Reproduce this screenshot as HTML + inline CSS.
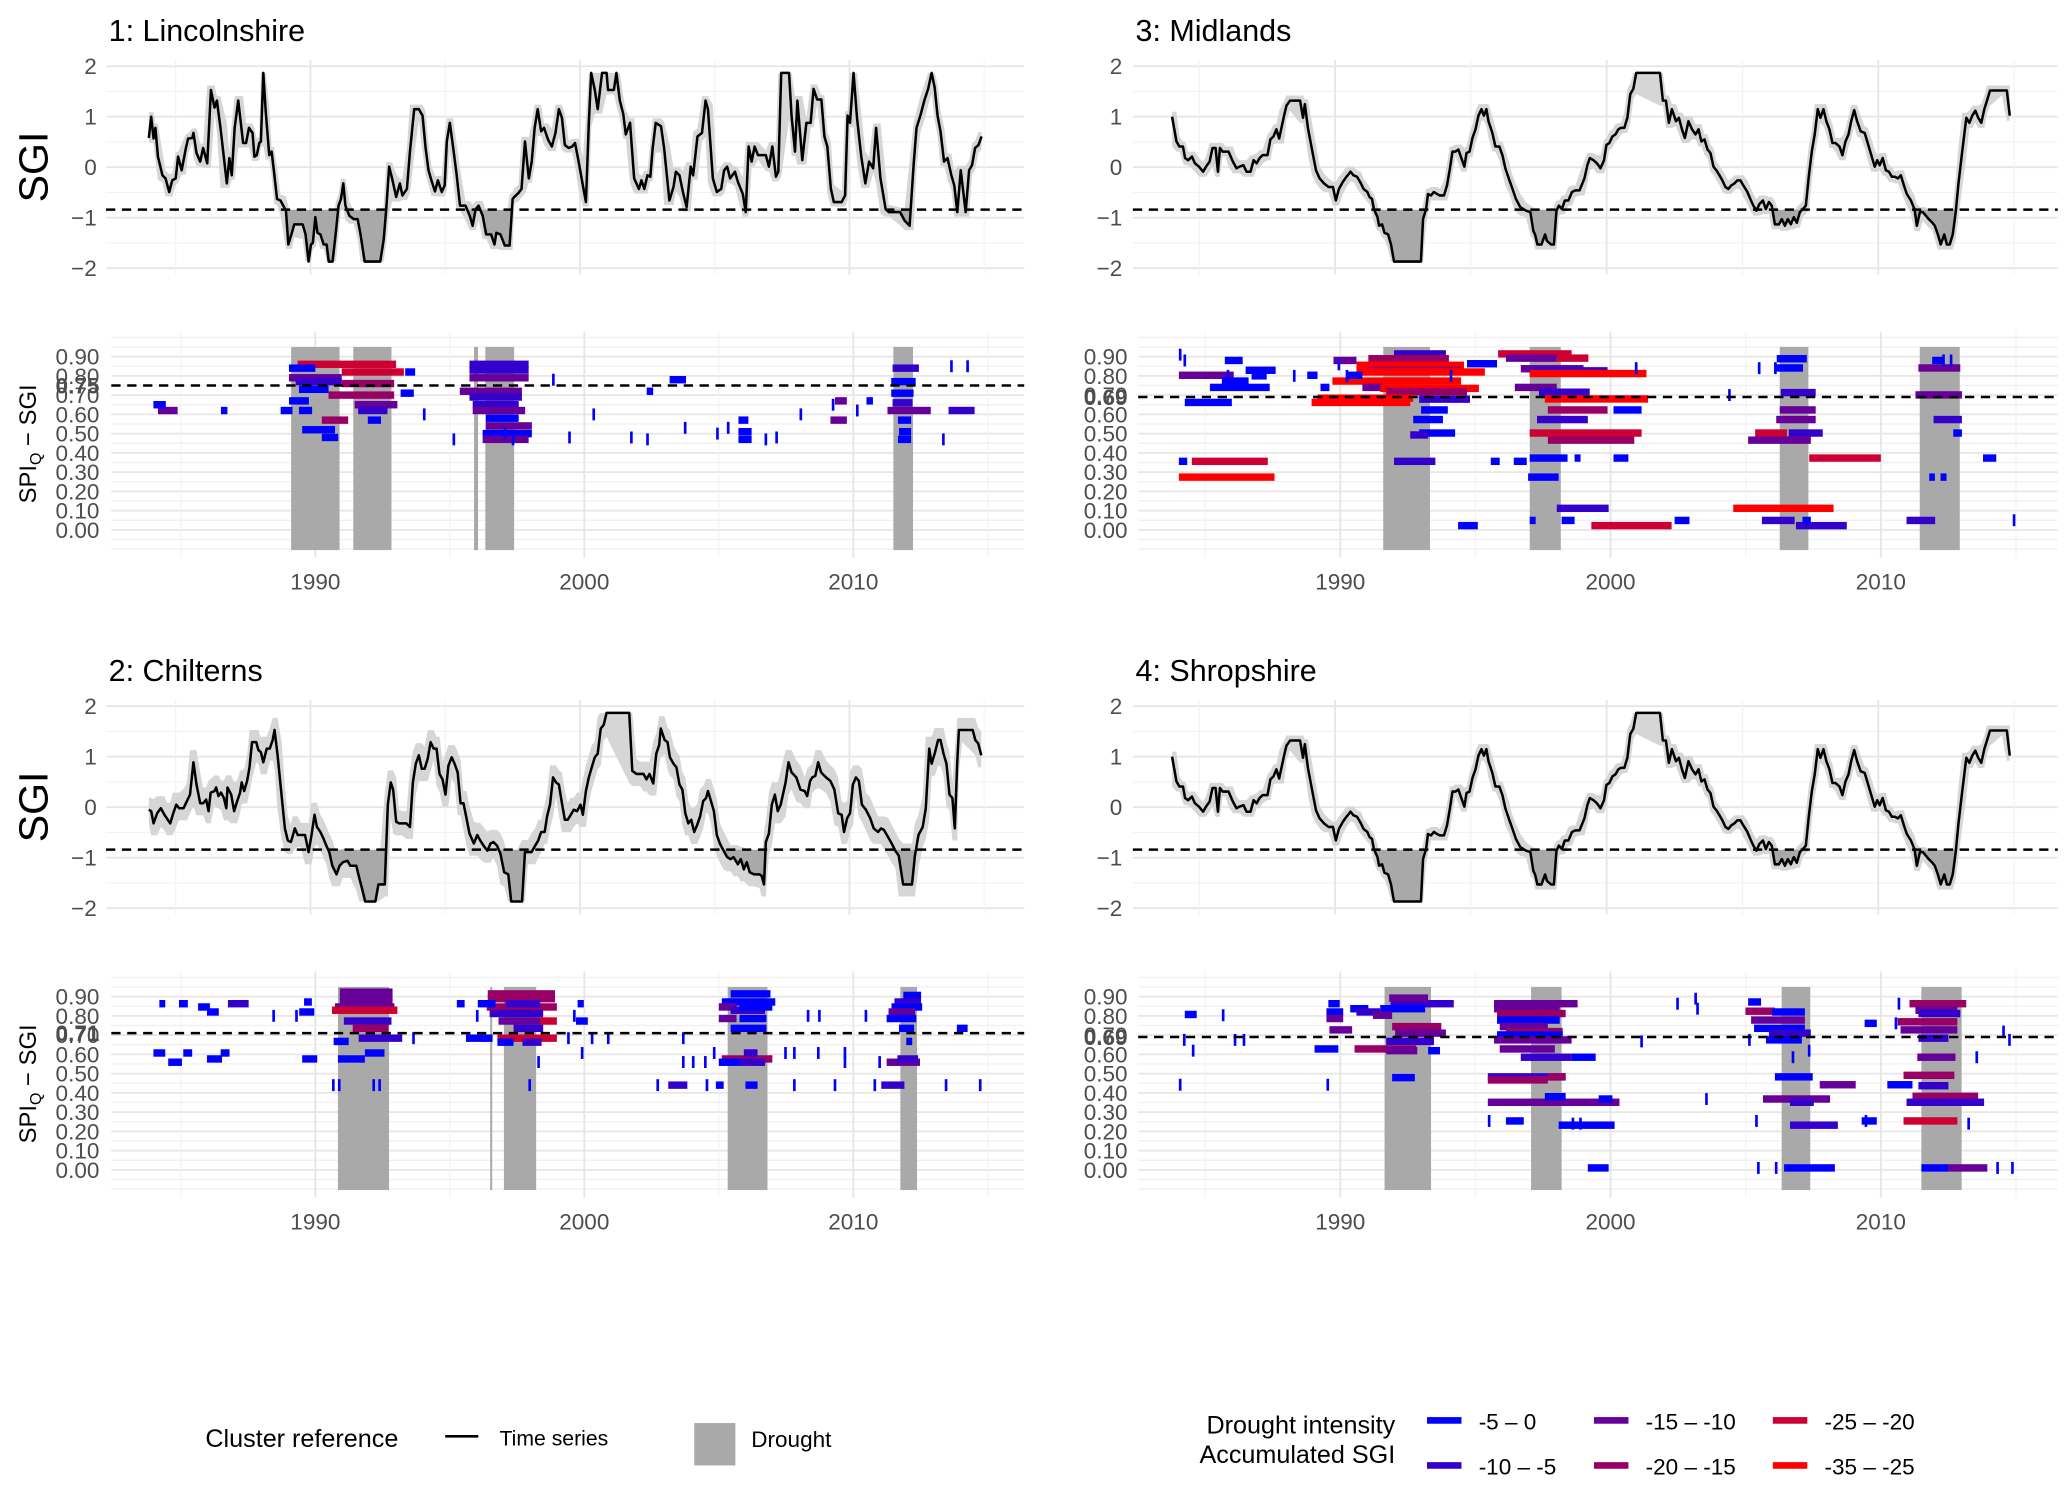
<!DOCTYPE html>
<html><head><meta charset="utf-8"><title>SGI drought clusters</title>
<style>
html,body{margin:0;padding:0;background:#fff;}
svg{display:block;font-family:"Liberation Sans",Arial,sans-serif;}
</style></head>
<body>
<svg id="chart" xmlns="http://www.w3.org/2000/svg" width="2067" height="1486" viewBox="0 0 1560 1121.5"></svg>
<script>
// ===== Data =====
const lincYears=[1984.0,1984.09,1984.18,1984.25,1984.34,1984.51,1984.62,1984.76,1984.87,1985.0,1985.09,1985.22,1985.38,1985.46,1985.62,1985.66,1985.77,1985.91,1986.02,1986.17,1986.31,1986.44,1986.53,1986.66,1986.9,1986.99,1987.08,1987.19,1987.32,1987.5,1987.61,1987.72,1987.85,1987.92,1988.01,1988.1,1988.16,1988.25,1988.34,1988.47,1988.56,1988.65,1988.76,1988.89,1989.09,1989.18,1989.31,1989.4,1989.71,1989.82,1989.93,1990.02,1990.09,1990.18,1990.26,1990.37,1990.49,1990.6,1990.68,1990.82,1990.95,1991.04,1991.13,1991.22,1991.3,1991.44,1991.61,1991.75,1991.86,1992.01,1992.59,1992.72,1992.81,1992.92,1993.03,1993.18,1993.32,1993.41,1993.58,1993.69,1993.85,1994.02,1994.16,1994.27,1994.38,1994.49,1994.62,1994.73,1994.87,1994.98,1995.06,1995.17,1995.29,1995.42,1995.55,1995.75,1995.91,1996.02,1996.13,1996.24,1996.39,1996.52,1996.7,1996.83,1996.9,1997.05,1997.21,1997.39,1997.5,1997.56,1997.72,1997.83,1997.96,1998.1,1998.21,1998.32,1998.43,1998.56,1998.67,1998.82,1998.96,1999.09,1999.22,1999.33,1999.44,1999.58,1999.71,1999.82,1999.95,2000.11,2000.22,2000.33,2000.42,2000.55,2000.66,2000.82,2000.99,2001.04,2001.26,2001.35,2001.48,2001.61,2001.7,2001.86,2002.01,2002.19,2002.28,2002.39,2002.5,2002.61,2002.7,2002.81,2003.01,2003.12,2003.32,2003.47,2003.56,2003.69,2003.82,2003.96,2004.11,2004.2,2004.36,2004.53,2004.66,2004.75,2004.93,2005.08,2005.24,2005.35,2005.46,2005.57,2005.75,2005.86,2006.04,2006.15,2006.26,2006.37,2006.48,2006.61,2006.9,2007.01,2007.14,2007.27,2007.36,2007.47,2007.76,2007.85,2007.98,2008.07,2008.25,2008.4,2008.56,2008.67,2008.8,2008.96,2009.07,2009.18,2009.31,2009.42,2009.71,2009.84,2009.93,2010.02,2010.15,2010.28,2010.44,2010.59,2010.73,2010.88,2010.99,2011.15,2011.34,2011.46,2011.88,2012.05,2012.23,2012.38,2012.49,2012.63,2012.78,2012.92,2013.05,2013.16,2013.27,2013.38,2013.51,2013.64,2013.78,2013.89,2014.0,2014.13,2014.31,2014.44,2014.55,2014.66,2014.79,2014.9];
const lincSGI=[0.58,1.0,0.57,0.78,0.21,-0.16,-0.22,-0.49,-0.26,-0.22,0.21,-0.06,0.38,0.57,0.58,0.68,0.28,0.11,0.38,0.08,1.53,1.18,1.32,0.78,-0.32,0.18,-0.16,0.78,1.32,0.48,0.48,0.78,0.68,0.21,0.24,0.48,0.51,1.87,1.12,0.24,0.31,-0.09,-0.63,-0.66,-0.86,-1.53,-1.30,-1.13,-1.13,-1.33,-1.87,-1.53,-1.50,-0.99,-1.30,-1.33,-1.53,-1.53,-1.87,-1.87,-1.26,-0.76,-0.63,-0.32,-0.76,-0.96,-1.03,-1.03,-1.33,-1.87,-1.87,-1.43,-0.83,0.01,-0.22,-0.59,-0.32,-0.56,-0.43,0.31,1.15,1.15,1.02,0.38,-0.06,-0.26,-0.48,-0.26,-0.49,-0.36,0.51,0.88,0.41,-0.12,-0.76,-0.76,-0.96,-1.16,-0.83,-0.76,-0.96,-1.33,-1.33,-1.53,-1.30,-1.33,-1.55,-1.55,-0.63,-0.59,-0.51,-0.43,0.51,-0.22,0.11,0.78,1.15,0.71,0.78,0.54,0.41,0.68,1.15,0.98,0.44,0.38,0.41,0.48,0.11,-0.36,-0.69,0.88,1.87,1.53,1.15,1.87,1.87,1.53,1.53,1.87,1.32,1.05,0.65,0.88,-0.22,-0.43,-0.26,-0.43,-0.16,-0.19,0.38,0.88,0.81,0.38,-0.66,-0.39,-0.09,-0.16,-0.49,-0.79,0.01,-0.16,0.61,0.68,1.32,1.15,-0.22,-0.49,-0.43,-0.06,0.01,-0.22,-0.09,-0.29,-0.53,-0.89,0.41,0.11,0.41,0.24,0.24,0.01,0.41,-0.19,-0.09,1.87,1.87,1.02,0.31,1.32,0.14,0.88,0.88,1.55,1.34,1.34,0.61,0.41,-0.43,-0.69,-0.69,-0.56,1.02,0.88,1.87,0.98,0.21,-0.32,0.11,-0.02,0.78,-0.22,-0.83,-0.89,-0.89,-1.06,-1.16,0.04,0.78,1.02,1.32,1.55,1.87,1.58,1.02,0.71,0.11,0.18,-0.16,-0.36,-0.89,-0.06,-0.89,-0.06,0.04,0.38,0.44,0.61];

const midYears=[1984.0,1984.16,1984.27,1984.4,1984.48,1984.59,1984.73,1984.84,1984.99,1985.14,1985.25,1985.38,1985.49,1985.6,1985.69,1985.76,1985.86,1985.97,1986.08,1986.24,1986.37,1986.48,1986.63,1986.74,1986.89,1987.0,1987.11,1987.22,1987.33,1987.51,1987.62,1987.73,1987.84,1987.94,1988.12,1988.21,1988.34,1988.71,1988.82,1988.89,1989.0,1989.15,1989.3,1989.43,1989.59,1989.76,1989.92,1990.03,1990.14,1990.29,1990.42,1990.57,1990.68,1990.81,1990.95,1991.05,1991.19,1991.27,1991.36,1991.43,1991.56,1991.62,1991.73,1991.82,1991.95,1992.06,1992.17,1993.16,1993.24,1993.35,1993.42,1993.53,1993.64,1993.75,1993.86,1994.01,1994.12,1994.23,1994.32,1994.43,1994.54,1994.65,1994.76,1994.84,1994.95,1995.06,1995.17,1995.28,1995.39,1995.48,1995.57,1995.65,1995.79,1995.9,1996.05,1996.16,1996.27,1996.42,1996.53,1996.66,1996.82,1997.03,1997.19,1997.3,1997.36,1997.45,1997.6,1997.73,1997.8,1997.95,1998.06,1998.15,1998.24,1998.35,1998.46,1998.59,1998.72,1998.85,1999.0,1999.18,1999.29,1999.38,1999.51,1999.64,1999.77,1999.9,1999.99,2000.1,2000.21,2000.32,2000.43,2000.52,2000.65,2000.76,2000.87,2000.98,2001.09,2001.96,2002.07,2002.18,2002.29,2002.4,2002.55,2002.66,2002.77,2002.88,2003.01,2003.14,2003.27,2003.38,2003.49,2003.6,2003.71,2003.82,2003.93,2004.04,2004.15,2004.26,2004.37,2004.48,2004.59,2004.7,2004.81,2004.92,2005.03,2005.18,2005.29,2005.4,2005.51,2005.62,2005.75,2005.86,2005.97,2006.08,2006.19,2006.34,2006.45,2006.56,2006.67,2006.78,2006.89,2007.0,2007.11,2007.22,2007.33,2007.44,2007.55,2007.66,2007.77,2007.87,2007.98,2008.09,2008.2,2008.31,2008.42,2008.57,2008.68,2008.79,2008.9,2009.0,2009.11,2009.22,2009.35,2009.5,2009.61,2009.74,2009.87,2009.96,2010.05,2010.16,2010.28,2010.39,2010.5,2010.61,2010.72,2010.83,2010.94,2011.05,2011.2,2011.33,2011.42,2011.53,2011.64,2011.75,2011.86,2011.99,2012.08,2012.19,2012.3,2012.43,2012.52,2012.63,2012.74,2012.85,2012.95,2013.09,2013.24,2013.35,2013.46,2013.57,2013.68,2013.79,2013.9,2014.0,2014.11,2014.55,2014.73,2014.84];
const midSGI=[1.0,0.51,0.41,0.41,0.18,0.14,0.21,0.08,0.01,-0.09,0.01,0.11,0.38,0.38,-0.09,0.38,0.31,0.31,0.31,0.11,-0.02,0.01,0.04,-0.09,-0.09,0.14,0.08,0.18,0.24,0.24,0.55,0.61,0.75,0.57,1.02,1.22,1.32,1.32,0.98,1.25,0.78,0.35,-0.06,-0.22,-0.32,-0.39,-0.39,-0.66,-0.43,-0.29,-0.19,-0.09,-0.16,-0.19,-0.32,-0.43,-0.49,-0.59,-0.63,-0.83,-0.99,-1.16,-1.13,-1.30,-1.33,-1.53,-1.87,-1.87,-1.03,-0.83,-0.53,-0.56,-0.49,-0.53,-0.56,-0.56,-0.36,-0.02,0.31,0.31,0.35,0.18,0.01,0.28,0.31,0.58,0.75,1.02,1.15,1.02,1.15,0.91,0.68,0.41,0.41,0.24,-0.02,-0.26,-0.43,-0.63,-0.79,-0.86,-0.89,-1.26,-1.33,-1.53,-1.53,-1.33,-1.46,-1.53,-1.53,-0.86,-0.76,-0.83,-0.66,-0.66,-0.49,-0.46,-0.46,-0.22,0.04,0.18,0.14,0.08,-0.02,0.14,0.44,0.48,0.61,0.65,0.75,0.78,0.78,0.98,1.45,1.55,1.87,1.87,1.32,1.32,0.88,1.15,0.91,0.98,0.75,0.58,0.91,0.75,0.65,0.75,0.51,0.55,0.35,0.28,0.01,-0.06,-0.16,-0.26,-0.39,-0.43,-0.36,-0.32,-0.26,-0.26,-0.36,-0.49,-0.63,-0.76,-0.86,-0.73,-0.66,-0.83,-0.69,-0.76,-1.13,-1.13,-1.03,-1.16,-1.03,-1.13,-0.99,-1.10,-0.89,-0.83,-0.76,-0.19,0.31,0.65,1.15,0.98,1.15,0.91,0.75,0.48,0.48,0.41,0.24,0.51,0.65,0.91,1.13,0.91,0.71,0.68,0.48,0.24,0.01,0.14,0.04,0.18,-0.06,-0.09,-0.19,-0.19,-0.22,-0.16,-0.36,-0.53,-0.66,-0.83,-1.16,-0.89,-0.89,-0.96,-1.03,-1.10,-1.16,-1.33,-1.53,-1.33,-1.53,-1.53,-1.33,-0.89,-0.32,0.31,0.98,0.88,1.02,1.12,0.98,0.88,1.15,1.32,1.52,1.52,1.52,1.02];

const chilYears=[1984.0,1984.09,1984.18,1984.31,1984.45,1984.58,1984.67,1984.8,1984.89,1985.02,1985.13,1985.29,1985.42,1985.53,1985.66,1985.77,1985.91,1986.02,1986.13,1986.22,1986.3,1986.44,1986.5,1986.59,1986.68,1986.79,1986.88,1986.92,1987.06,1987.17,1987.28,1987.39,1987.45,1987.54,1987.65,1987.74,1987.83,1987.99,1988.07,1988.16,1988.25,1988.38,1988.49,1988.6,1988.67,1988.78,1988.94,1989.05,1989.16,1989.27,1989.33,1989.42,1989.53,1989.64,1989.8,1989.93,1990.04,1990.15,1990.24,1990.37,1990.48,1990.59,1990.7,1990.81,1990.97,1991.08,1991.21,1991.37,1991.48,1991.7,1991.81,1991.92,1992.03,1992.41,1992.52,1992.76,1992.87,1992.98,1993.07,1993.18,1993.29,1993.4,1993.56,1993.69,1993.8,1993.91,1994.02,1994.13,1994.24,1994.35,1994.46,1994.57,1994.68,1994.79,1994.9,1995.01,1995.12,1995.24,1995.35,1995.46,1995.57,1995.68,1995.79,1995.9,1996.06,1996.19,1996.3,1996.46,1996.57,1996.68,1996.79,1996.92,1997.05,1997.19,1997.34,1997.45,1997.85,1997.96,1998.07,1998.2,1998.34,1998.45,1998.56,1998.69,1998.78,1998.89,1999.0,1999.11,1999.22,1999.33,1999.44,1999.55,1999.66,1999.77,1999.89,2000.02,2000.11,2000.22,2000.33,2000.44,2000.55,2000.66,2000.77,2000.88,2000.99,2001.83,2001.94,2002.1,2002.23,2002.36,2002.47,2002.58,2002.72,2002.83,2002.94,2003.0,2003.14,2003.25,2003.34,2003.47,2003.58,2003.69,2003.8,2003.91,2004.02,2004.13,2004.24,2004.35,2004.46,2004.57,2004.68,2004.75,2004.86,2004.97,2005.08,2005.19,2005.33,2005.46,2005.59,2005.7,2005.86,2005.97,2006.08,2006.19,2006.3,2006.46,2006.66,2006.74,2006.83,2006.9,2007.01,2007.12,2007.23,2007.34,2007.45,2007.63,2007.74,2007.85,2008.03,2008.18,2008.34,2008.43,2008.54,2008.62,2008.73,2008.84,2008.95,2009.13,2009.29,2009.44,2009.58,2009.71,2009.8,2009.91,2010.02,2010.13,2010.24,2010.35,2010.46,2010.61,2010.77,2010.9,2011.06,2011.17,2011.28,2011.43,2011.57,2011.7,2011.83,2011.99,2012.32,2012.43,2012.56,2012.72,2012.83,2012.96,2013.05,2013.16,2013.29,2013.38,2013.49,2013.6,2013.71,2013.82,2013.91,2014.0,2014.06,2014.18,2014.57,2014.67,2014.78,2014.89];
const chilSGI=[-0.05,-0.08,-0.32,-0.12,-0.02,-0.15,-0.22,-0.32,-0.15,0.05,-0.02,-0.02,0.12,0.25,0.89,0.45,0.08,0.08,0.15,-0.08,0.29,0.32,0.39,0.22,0.29,0.18,-0.02,0.39,0.25,-0.08,0.12,0.29,0.49,0.32,0.52,0.79,1.29,1.29,1.13,1.09,0.89,1.16,1.16,1.33,1.53,1.03,0.18,-0.42,-0.66,-0.69,-0.59,-0.42,-0.55,-0.55,-0.55,-0.89,-0.55,-0.15,-0.39,-0.49,-0.62,-0.76,-0.89,-1.16,-1.33,-1.16,-1.09,-1.06,-1.16,-1.16,-1.40,-1.63,-1.87,-1.87,-1.53,-1.53,0.05,0.49,0.35,-0.29,-0.32,-0.32,-0.32,-0.39,0.49,0.86,1.03,0.76,0.76,0.96,1.29,1.16,1.16,0.66,0.55,0.25,0.82,0.99,0.86,0.69,0.08,0.08,-0.22,-0.52,-0.72,-0.55,-0.66,-0.79,-0.86,-0.72,-0.69,-0.76,-0.92,-1.29,-1.33,-1.87,-1.87,-0.89,-0.89,-0.89,-0.76,-0.66,-0.49,-0.49,-0.18,0.05,0.59,0.49,0.45,0.08,-0.25,-0.25,-0.15,-0.05,-0.08,0.05,-0.15,0.32,0.59,0.79,0.99,1.06,1.56,1.63,1.87,1.87,0.72,0.66,0.66,0.66,0.55,0.66,0.47,1.06,1.23,1.56,1.33,1.29,0.99,0.86,0.79,0.45,0.35,-0.12,-0.32,-0.25,-0.49,-0.35,-0.18,0.12,0.18,0.32,0.12,-0.08,-0.55,-0.72,-0.86,-0.99,-1.03,-0.99,-1.13,-1.03,-1.23,-1.09,-1.29,-1.33,-1.33,-1.36,-1.53,-0.69,-0.52,0.05,0.25,-0.08,0.05,0.49,0.89,0.69,0.59,0.35,0.32,0.22,0.52,0.59,0.62,0.89,0.69,0.59,0.52,0.35,-0.12,-0.15,-0.49,-0.22,-0.12,0.45,0.59,0.52,0.05,-0.05,-0.22,-0.42,-0.49,-0.42,-0.45,-0.59,-0.72,-0.86,-0.96,-1.53,-1.53,-0.96,-0.55,-0.39,-0.02,1.16,0.86,1.06,1.33,1.33,1.06,0.86,0.25,0.18,-0.42,0.92,1.53,1.53,1.53,1.33,1.26,1.03];

const shropYears=midYears.slice();
const shropSGI=midSGI.slice();

// drought periods (years)
const lincDroughtStart=[1989.1,1991.41,1995.9,1996.32,2011.49];
const lincDroughtEnd=[1990.9,1992.83,1996.05,1997.39,2012.22];
const chilDroughtStart=[1990.84,1996.5,1997.01,2005.33,2011.75];
const chilDroughtEnd=[1992.74,1996.56,1998.21,2006.81,2012.37];
const midDroughtStart=[1991.59,1997.01,2006.26,2011.44];
const midDroughtEnd=[1993.32,1998.16,2007.32,2012.92];
const shropDroughtStart=[1991.64,1997.06,2006.33,2011.5];
const shropDroughtEnd=[1993.36,1998.19,2007.39,2012.99];

// thresholds
const sgiThreshold=-0.84;
const lincCorr=0.75, chilCorr=0.71, midCorr=0.69, shropCorr=0.69;

// intensity classes
const classLabels=["-5 \u2013 0","-10 \u2013 -5","-15 \u2013 -10","-20 \u2013 -15","-25 \u2013 -20","-35 \u2013 -25"];

// Lincolnshire segments
const lincSegStart=[1989.34,1990.98,1989.02,1989.27,1990.98,1990.49,1991.46,1991.59,1990.24,1989.02,1989.39,1989.02,1989.39,1989.51,1990.24,1991.95,1993.17,1993.34,1984.15,1983.98,1986.49,1988.71,1995.73,1995.73,1995.73,1995.37,1995.73,1995.85,1995.85,1996.34,1996.34,1996.22,1996.22,2003.17,2002.32,2005.73,2005.73,2005.73,2009.15,2009.32,2011.27,2011.46,2011.41,2011.41,2011.46,2011.66,2011.7,2011.66,2013.54,2010.49];
const lincSegEnd=[1993.0,1993.29,1990.98,1990.98,1992.93,1992.93,1993.05,1992.68,1991.22,1990.0,1990.49,1989.76,1989.88,1990.73,1990.85,1992.44,1993.66,1993.71,1984.88,1984.44,1986.73,1989.15,1997.93,1997.93,1997.93,1997.68,1997.68,1997.56,1997.8,1997.56,1998.05,1998.05,1997.93,2003.78,2002.56,2006.22,2006.22,2006.1,2009.76,2009.76,2012.88,2012.44,2012.32,2012.24,2012.2,2012.15,2012.15,2012.15,2014.51,2010.73];
const lincSegVal=[0.86,0.82,0.79,0.77,0.76,0.70,0.65,0.62,0.57,0.84,0.73,0.67,0.62,0.52,0.48,0.57,0.71,0.82,0.62,0.65,0.62,0.62,0.86,0.83,0.79,0.72,0.69,0.65,0.62,0.58,0.54,0.50,0.47,0.78,0.72,0.51,0.47,0.57,0.57,0.67,0.62,0.84,0.77,0.71,0.66,0.57,0.51,0.47,0.62,0.67];
const lincSegCls=[4,4,2,1,3,3,2,1,3,0,0,0,0,0,0,0,0,0,2,0,0,0,1,1,2,2,1,1,2,0,2,0,2,0,0,0,0,0,2,2,2,1,0,0,1,0,0,0,1,0];
const lincTickYear=[1997.0,1995.1,2002.3,2004.9,2005.3,2007.1,2008.0,2013.6,2014.2,1998.8,1994.0,1999.4,2000.3,2001.7,2003.7,2006.7,2010.1,2013.3,2009.2,1997.3];
const lincTickVal=[0.50,0.47,0.47,0.50,0.53,0.48,0.60,0.85,0.85,0.78,0.60,0.48,0.60,0.48,0.53,0.47,0.62,0.47,0.65,0.47];

// Midlands segments
const midSegStart=[1991.99,1995.84,1989.75,1991.04,1996.13,1998.01,1990.6,1991.04,1996.68,1997.01,1997.01,1990.6,1984.03,1986.5,1994.69,1989.71,1985.62,1985.18,1990.82,1991.48,1991.7,1989.16,1988.94,1996.46,1997.35,1997.57,1992.92,1984.25,1992.99,1997.68,2000.11,1992.7,1997.28,1992.92,1992.59,1997.01,1997.68,2005.35,2006.59,2005.09,2006.15,2006.13,2006.3,2006.26,2006.13,2011.39,2011.28,2011.95,2012.68,2011.9,1984.03,1984.51,1984.03,1991.99,1997.01,1995.57,1996.42,1998.67,2000.11,1996.95,1998.01,2004.54,2007.35,2013.78,1994.36,1999.29,1998.19,2002.37,1997.01,2005.6,2006.86,2010.95,2007.1,2011.79,2012.21,1985.73,1986.72,1988.78,1989.27,1990.26];
const midSegEnd=[1993.91,1998.56,1990.6,1994.02,1998.01,1999.18,1994.58,1994.47,1999.0,1999.89,2001.33,1995.35,1986.06,1987.61,1995.8,1994.47,1986.61,1987.39,1991.59,1995.13,1994.69,1992.7,1992.59,1998.01,1999.23,2001.39,1994.8,1985.99,1993.98,1999.89,2001.15,1993.8,1999.16,1994.25,1993.25,2001.15,2000.88,2006.53,2007.85,2007.41,2007.26,2007.12,2007.59,2007.59,2007.59,2012.94,2013.0,2013.0,2013.0,2012.28,1984.34,1987.32,1987.57,1993.52,1998.41,1995.9,1996.9,1998.89,2000.66,1998.08,1999.93,2008.25,2010.0,2014.27,1995.09,2002.26,1998.67,2002.92,1997.23,2006.81,2008.74,2012.01,2007.41,2012.0,2012.43,1986.39,1987.28,1989.16,1989.6,1990.82];
const midSegVal=[0.914,0.914,0.88,0.889,0.892,0.892,0.855,0.829,0.837,0.826,0.812,0.82,0.803,0.829,0.863,0.773,0.773,0.74,0.74,0.735,0.718,0.684,0.662,0.74,0.715,0.68,0.679,0.662,0.623,0.623,0.623,0.573,0.573,0.503,0.493,0.503,0.466,0.503,0.503,0.466,0.889,0.841,0.713,0.623,0.573,0.841,0.701,0.573,0.503,0.88,0.356,0.356,0.274,0.356,0.373,0.356,0.356,0.373,0.373,0.274,0.112,0.112,0.373,0.373,0.022,0.022,0.049,0.049,0.049,0.049,0.022,0.049,0.049,0.274,0.274,0.88,0.80,0.803,0.74,0.803];
const midSegCls=[1,4,2,3,2,4,5,3,2,1,5,5,2,0,0,5,0,0,2,5,3,5,5,2,1,5,1,0,0,3,0,0,1,0,1,4,3,4,1,2,0,0,1,2,2,2,2,1,0,0,0,4,5,1,0,0,0,0,0,0,1,5,4,0,0,4,0,0,0,1,1,1,0,0,0,0,0,0,0,0];
const midTickYear=[1984.03,1984.2,1985.8,1988.25,1989.9,1990.2,1994.05,2000.9,2004.35,2005.45,2006.05,2014.88,2012.27,2012.55];
const midTickVal=[0.91,0.88,0.80,0.80,0.86,0.80,0.80,0.84,0.70,0.84,0.84,0.05,0.88,0.88];

// Chilterns segments
const chilSegStart=[1990.91,1990.91,1990.91,1990.73,1990.62,1991.06,1991.39,1991.61,1990.68,1996.41,1996.41,1996.37,1997.08,1996.48,1996.81,1998.36,1996.77,1997.37,1996.15,1996.77,1997.7,1986.75,1985.64,1984.93,1985.97,1984.2,1989.4,1989.58,1983.98,1984.53,1985.09,1985.97,1986.48,1989.51,1990.84,1991.84,2005.11,2005.0,2005.77,2005.93,2011.24,2011.64,2005.44,2005.11,2005.0,2005.44,2005.0,2005.77,2005.44,2005.77,2011.86,2011.53,2011.42,2011.31,2011.24,2011.7,2011.97,2003.12,2011.04,2005.99,2004.89,2013.85,1995.26,1996.04,1999.75,1999.69,1995.6];
const chilSegEnd=[1992.87,1992.87,1992.87,1992.94,1993.05,1992.83,1992.72,1993.23,1991.24,1998.91,1998.91,1998.98,1998.36,1998.47,1998.47,1998.98,1998.98,1998.47,1996.59,1997.37,1998.41,1987.52,1986.08,1985.26,1986.41,1984.42,1989.96,1989.87,1984.42,1985.04,1985.42,1986.53,1986.81,1990.07,1991.84,1992.57,2006.99,2005.77,2006.72,2006.44,2012.48,2012.41,2006.92,2007.1,2005.66,2006.72,2005.66,2006.77,2006.77,2006.99,2012.52,2012.52,2012.56,2012.3,2012.34,2012.26,2012.19,2003.83,2011.9,2006.44,2005.18,2014.25,1995.55,1996.7,1999.98,2000.13,1996.37];
const chilSegVal=[0.923,0.897,0.872,0.846,0.829,0.773,0.735,0.684,0.667,0.914,0.889,0.846,0.863,0.812,0.773,0.773,0.684,0.735,0.684,0.663,0.663,0.863,0.846,0.863,0.82,0.863,0.82,0.872,0.607,0.559,0.607,0.576,0.607,0.576,0.576,0.607,0.576,0.559,0.559,0.607,0.559,0.576,0.914,0.872,0.846,0.829,0.786,0.786,0.735,0.846,0.906,0.872,0.846,0.82,0.786,0.735,0.667,0.44,0.44,0.44,0.44,0.735,0.863,0.863,0.863,0.773,0.684];
const chilSegCls=[2,2,2,2,4,1,3,1,0,3,3,3,1,1,2,4,4,1,0,0,1,1,0,0,0,0,0,0,0,0,0,0,0,0,0,0,3,0,1,1,2,1,0,0,2,1,2,0,0,0,0,1,0,2,0,0,0,1,1,0,0,0,0,0,0,0,0];
const chilTickYear=[1990.62,1990.84,1992.12,1992.34,1997.92,2002.68,2004.51,2007.76,2009.27,2010.75,2013.4,2014.67,1999.87,2004.78,2007.43,2007.76,2008.65,2009.64,1998.25,2003.63,2004.0,2004.45,2009.64,2010.93,1993.6,1999.36,2000.24,2000.84,2003.63,1988.4,1989.25,1995.97,1999.58,2008.27,2008.69,2010.42];
const chilTickVal=[0.44,0.44,0.44,0.44,0.44,0.44,0.44,0.44,0.44,0.44,0.44,0.44,0.607,0.607,0.607,0.607,0.607,0.607,0.56,0.56,0.56,0.56,0.56,0.56,0.684,0.684,0.684,0.684,0.684,0.80,0.80,0.80,0.80,0.80,0.80,0.80];

// Shropshire segments
const shropSegStart=[1991.86,1991.81,1991.48,1989.56,1989.49,1989.49,1989.6,1990.37,1990.6,1991.21,1991.92,1992.03,1991.7,1990.53,1991.7,1993.25,1989.05,1991.92,1995.69,1995.69,1995.8,1995.8,1995.9,1996.13,1995.8,1995.69,1995.9,1996.68,1998.56,1995.46,1995.46,1997.68,1995.46,1997.57,1999.56,1996.13,1998.08,1999.16,2005.09,2004.99,2005.97,2005.2,2005.31,2005.86,2005.75,2006.08,2005.64,2006.64,2007.74,2006.64,2009.29,2006.42,2011.06,2011.28,2011.39,2010.62,2010.73,2011.39,2011.35,2010.84,2011.39,2011.17,2010.95,2010.84,2011.5,2012.5,1984.25,2009.4,2010.24];
const shropSegEnd=[1994.2,1993.25,1993.14,1989.98,1990.11,1990.11,1990.44,1991.04,1991.48,1991.92,1993.74,1993.91,1993.47,1992.81,1992.85,1993.69,1989.93,1992.76,1998.78,1998.12,1998.34,1998.12,1997.68,1998.23,1998.23,1998.56,1997.94,1998.56,1999.45,1998.34,1997.68,1998.34,2000.33,1998.34,2000.07,1996.79,2000.15,1999.93,2005.57,2006.08,2007.19,2007.19,2007.19,2007.41,2007.08,2007.48,2008.12,2007.52,2009.07,2008.41,2009.85,2008.3,2013.16,2012.83,2012.94,2012.83,2012.83,2012.5,2012.76,2012.72,2012.5,2013.6,2013.82,2012.83,2012.5,2013.94,1984.69,2009.85,2011.17];
const shropSegVal=[0.863,0.892,0.837,0.863,0.82,0.786,0.727,0.837,0.82,0.803,0.744,0.71,0.667,0.628,0.619,0.619,0.628,0.479,0.863,0.837,0.812,0.778,0.744,0.718,0.701,0.675,0.628,0.585,0.585,0.483,0.467,0.483,0.351,0.38,0.368,0.254,0.232,0.01,0.872,0.824,0.82,0.778,0.735,0.71,0.675,0.483,0.368,0.351,0.442,0.232,0.254,0.01,0.863,0.829,0.812,0.769,0.727,0.684,0.585,0.491,0.437,0.382,0.351,0.254,0.01,0.01,0.807,0.761,0.442];
const shropSegCls=[1,2,0,0,0,2,2,0,1,2,3,2,1,3,2,0,0,0,2,2,3,0,2,3,0,2,2,1,0,1,3,3,2,0,0,0,0,0,0,3,0,2,0,1,0,0,2,1,2,1,0,0,3,2,1,3,2,1,2,3,1,3,1,4,0,2,0,0,0];
const shropTickYear=[1984.18,1984.51,1985.62,1986.06,1986.39,1984.03,1989.49,2014.49,2014.71,2005.09,2006.7,2007.3,2010.51,2002.43,2003.1,2003.17,2005.42,2006.08,2014.27,2014.82,2001.1,2003.5,1995.46,1998.56,1998.84,2005.35,2009.4,2013.2,2013.5,2010.62];
const shropTickVal=[0.675,0.619,0.803,0.675,0.675,0.442,0.442,0.718,0.675,0.675,0.585,0.619,0.761,0.863,0.889,0.837,0.01,0.01,0.01,0.01,0.667,0.368,0.254,0.24,0.24,0.254,0.254,0.24,0.585,0.863];

// ===== Rendering =====
const NS='http://www.w3.org/2000/svg';
const svg=document.getElementById('chart');
const classColors=['#0000ff','#3300cc','#660099','#990066','#cc0033','#ff0000'];
function mk(tag,attrs,parent){const e=document.createElementNS(NS,tag);for(const k in attrs)e.setAttribute(k,attrs[k]);(parent||svg).appendChild(e);return e;}
function fmt(v){return (v<0?'\u2212':'')+Math.abs(v);}

const panels=[
 {key:'lincolnshire',title:'1: Lincolnshire',col:0,row:0,years:lincYears,sgi:lincSGI,spread:0.09,dS:lincDroughtStart,dE:lincDroughtEnd,corr:lincCorr,sS:lincSegStart,sE:lincSegEnd,sV:lincSegVal,sC:lincSegCls,tY:lincTickYear,tV:lincTickVal},
 {key:'midlands',title:'3: Midlands',col:1,row:0,years:midYears,sgi:midSGI,spread:0.1,dS:midDroughtStart,dE:midDroughtEnd,corr:midCorr,sS:midSegStart,sE:midSegEnd,sV:midSegVal,sC:midSegCls,tY:midTickYear,tV:midTickVal},
 {key:'chilterns',title:'2: Chilterns',col:0,row:1,years:chilYears,sgi:chilSGI,spread:0.24,dS:chilDroughtStart,dE:chilDroughtEnd,corr:chilCorr,sS:chilSegStart,sE:chilSegEnd,sV:chilSegVal,sC:chilSegCls,tY:chilTickYear,tV:chilTickVal},
 {key:'shropshire',title:'4: Shropshire',col:1,row:1,years:shropYears,sgi:shropSGI,spread:0.1,dS:shropDroughtStart,dE:shropDroughtEnd,corr:shropCorr,sS:shropSegStart,sE:shropSegEnd,sV:shropSegVal,sC:shropSegCls,tY:shropTickYear,tV:shropTickVal}
];

panels.forEach(p=>{
  const dy=p.row*483;
  const left=p.col===0;
  const g=mk('g',{});
  
  
  const sx0=left?234.3:1007.6, sxk=left?20.34:20.5;
  const lx0=left?238.0:1011.5, lxk=left?20.3:20.4;
  const xS=yr=>sx0+(yr-1990)*sxk;
  const xL=yr=>lx0+(yr-1990)*lxk;
  const yS=v=>126.2+dy-v*38.1;
  const yL=v=>399.9+dy-v*145.3;
  const gL=left?80:855, gR=left?773:1553;
  const lgL=left?84:859;
  const t=mk('text',{x:left?82:857,y:31+dy,'font-size':23,fill:'#000'},g);
  t.textContent=p.title;
  
  
  // --- SGI plot ---
  const sg=mk('g',{},g);
  
  
  for(let v=-2;v<=2.001;v+=0.5){
    const major=Math.abs(v-Math.round(v))<1e-6;
    mk('line',{x1:gL,x2:gR,y1:yS(v),y2:yS(v),stroke:major?'#e6e6e6':'#f2f2f2','stroke-width':major?1.4:0.8},sg);
  }
  for(let yr=1985;yr<=2015;yr+=5){
    mk('line',{x1:xS(yr),x2:xS(yr),y1:yS(2.12),y2:yS(-2.12),stroke:yr%10===0?'#e6e6e6':'#f2f2f2','stroke-width':yr%10===0?1.4:0.8},sg);
  }
  for(let v=-2;v<=2;v++){
    const tl=mk('text',{x:left?73:847,y:yS(v)+6,'font-size':17,'text-anchor':'end',fill:'#4d4d4d'},sg);
    tl.textContent=fmt(v);
    
    
  }
  const n=Math.min(p.years.length,p.sgi.length);
  const hi=[],lo=[];
  for(let i=0;i<n;i++){
    let mx=-9,mn=9;
    for(let j=Math.max(0,i-1);j<=Math.min(n-1,i+1);j++){mx=Math.max(mx,p.sgi[j]);mn=Math.min(mn,p.sgi[j]);}
    hi.push(Math.min(1.87,mx+p.spread));lo.push(Math.max(-1.87,mn-p.spread));
  }
  let rd='';
  for(let i=0;i<n;i++)rd+=(i?'L':'M')+xS(p.years[i]).toFixed(1)+','+yS(hi[i]).toFixed(1);
  for(let i=n-1;i>=0;i--)rd+='L'+xS(p.years[i]).toFixed(1)+','+yS(lo[i]).toFixed(1);
  const rib=mk('path',{d:rd+'Z',fill:'#d6d6d6',stroke:'none'},sg);
  
  
  const cid='clip-'+p.key;
  const cp=mk('clipPath',{id:cid},sg);
  mk('rect',{x:gL,y:yS(sgiThreshold),width:gR-gL,height:120},cp);
  let dd='M'+xS(p.years[0]).toFixed(1)+','+yS(sgiThreshold).toFixed(1);
  for(let i=0;i<n;i++)dd+='L'+xS(p.years[i]).toFixed(1)+','+yS(p.sgi[i]).toFixed(1);
  dd+='L'+xS(p.years[n-1]).toFixed(1)+','+yS(sgiThreshold).toFixed(1)+'Z';
  const df=mk('path',{d:dd,fill:'#a9a9a9','clip-path':'url(#'+cid+')'},sg);
  
  
  let ld='';
  for(let i=0;i<n;i++)ld+=(i?'L':'M')+xS(p.years[i]).toFixed(1)+','+yS(p.sgi[i]).toFixed(1);
  const ln=mk('path',{d:ld,fill:'none',stroke:'#000','stroke-width':1.9,'stroke-linejoin':'round'},sg);
  
  
  const th=mk('line',{x1:gL,x2:gR,y1:yS(sgiThreshold),y2:yS(sgiThreshold),stroke:'#000','stroke-width':1.9,'stroke-dasharray':'7,5'},sg);
  
  
  if(left){
    const at=mk('text',{x:0,y:0,'font-size':31,'text-anchor':'middle',fill:'#000',transform:'translate(36,'+(126+dy)+') rotate(-90)'},g);
    at.textContent='SGI';
    
    
  }
  // --- Segment plot ---
  const lg=mk('g',{},g);
  
  
  for(let k=-2;k<=20;k++){
    const v=k*0.05;
    const major=k>=0&&k<=18&&k%2===0;
    mk('line',{x1:lgL,x2:gR,y1:yL(v),y2:yL(v),stroke:major?'#e6e6e6':'#efefef','stroke-width':major?1.3:0.9},lg);
  }
  for(let yr=1985;yr<=2015;yr+=5){
    mk('line',{x1:xL(yr),x2:xL(yr),y1:yL(1.03),y2:yL(-0.145),stroke:yr%10===0?'#e6e6e6':'#f2f2f2','stroke-width':yr%10===0?1.4:0.8},lg);
  }
  for(let i=0;i<p.dS.length;i++){
    const x1=xL(p.dS[i]),x2=xL(p.dE[i]);
    const r=mk('rect',{x:x1,y:yL(0.95),width:Math.max(1.5,x2-x1),height:yL(-0.105)-yL(0.95),fill:'#a9a9a9'},lg);
    
    
  }
  const ns=Math.min(p.sS.length,p.sE.length,p.sV.length,p.sC.length);
  for(let i=0;i<ns;i++){
    const x1=xL(p.sS[i]),x2=xL(p.sE[i]);
    const r=mk('rect',{x:x1,y:yL(p.sV[i])-2.8,width:Math.max(2,x2-x1),height:5.6,fill:classColors[p.sC[i]]},lg);
    
    
  }
  const nt=Math.min(p.tY.length,p.tV.length);
  for(let i=0;i<nt;i++){
    const r=mk('rect',{x:xL(p.tY[i]),y:yL(p.tV[i])-4.5,width:2,height:9,fill:classColors[0]},lg);
    
    
  }
  const cl=mk('line',{x1:lgL,x2:gR,y1:yL(p.corr),y2:yL(p.corr),stroke:'#000','stroke-width':1.9,'stroke-dasharray':'7,5'},lg);
  
  
  const lx=left?75:851;
  for(let k=0;k<=9;k++){
    const v=k/10;
    const tl=mk('text',{x:lx,y:yL(v)+6,'font-size':17,'text-anchor':'end',fill:'#4d4d4d'},lg);
    tl.textContent=v.toFixed(2);
    
    
  }
  const bl=mk('text',{x:lx,y:yL(p.corr)+6,'font-size':17,'text-anchor':'end',fill:'#4d4d4d','font-weight':'bold'},lg);
  bl.textContent=p.corr.toFixed(2);
  
  
  [1990,2000,2010].forEach(yr=>{
    const xl=mk('text',{x:xL(yr),y:445+dy,'font-size':17,'text-anchor':'middle',fill:'#4d4d4d'},lg);
    xl.textContent=String(yr);
    
    
  });
  if(left){
    const at=mk('text',{x:0,y:0,'font-size':18,'text-anchor':'middle',fill:'#000',transform:'translate(27,'+(335+dy)+') rotate(-90)'},g);
    at.innerHTML='SPI<tspan font-size="12" dy="4">Q</tspan><tspan dy="-4"> \u2212 SGI</tspan>';
    
    
  }
});

// ===== Legends =====
const leg=mk('g',{});


const lt=mk('text',{x:155,y:1092,'font-size':19,fill:'#000'},leg);
lt.textContent='Cluster reference';


const lline=mk('line',{x1:336,x2:361,y1:1084,y2:1084,stroke:'#000','stroke-width':2},leg);


const lts=mk('text',{x:377,y:1091,'font-size':16,fill:'#000'},leg);
lts.textContent='Time series';


const lr=mk('rect',{x:524,y:1074,width:31,height:32,fill:'#a9a9a9'},leg);


const ld2=mk('text',{x:567,y:1092,'font-size':17,fill:'#000'},leg);
ld2.textContent='Drought';



const leg2=mk('g',{});


const t1=mk('text',{x:1053,y:1082,'font-size':19,'text-anchor':'end',fill:'#000'},leg2);
t1.textContent='Drought intensity';


const t2=mk('text',{x:1053,y:1104,'font-size':19,'text-anchor':'end',fill:'#000'},leg2);
t2.textContent='Accumulated SGI';


const keyX=[1077,1077,1203,1203,1338,1338];
const keyY=[1072,1106,1072,1106,1072,1106];
for(let i=0;i<6;i++){
  const r=mk('rect',{x:keyX[i],y:keyY[i]-2.5,width:26,height:5,fill:classColors[i]},leg2);
  
  
  const tx=mk('text',{x:keyX[i]+39,y:keyY[i]+7,'font-size':17,fill:'#000'},leg2);
  tx.textContent=classLabels[i];
  
  
}
</script>
</body></html>
